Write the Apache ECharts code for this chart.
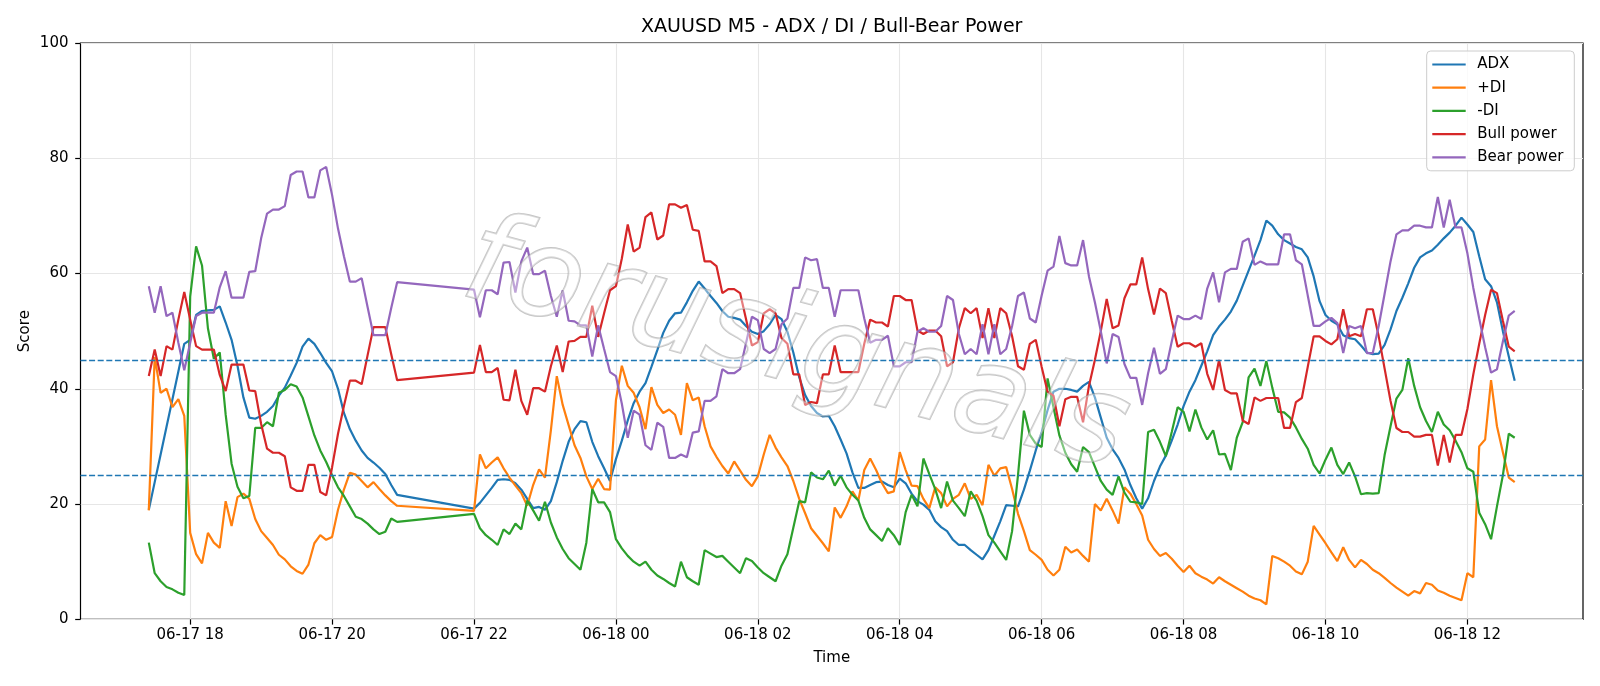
<!DOCTYPE html>
<html>
<head>
<meta charset="utf-8">
<title>XAUUSD M5 - ADX / DI / Bull-Bear Power</title>
<script src="https://cdn.jsdelivr.net/npm/echarts@6/dist/echarts.min.js"></script>
<style>
    html, body { margin: 0; padding: 0; background: #fff; }
    #chart { width: 1600px; height: 686px; }
</style>
</head>
<body>
<div id="chart"></div>
<script>
// M5 bars, two sessions (market closed 21:00 - 22:00)
var sessions = [
    { start: '2025-06-17 17:25', bars: 43 },
    { start: '2025-06-17 22:00', bars: 177 }
];
var tickLabels = ['06-17 18', '06-17 20', '06-17 22', '06-18 00', '06-18 02',
    '06-18 04', '06-18 06', '06-18 08', '06-18 10', '06-18 12'];
var yTicks = [0, 20, 40, 60, 80, 100];
var levels = [45, 25];
var seriesNames = ['ADX', '+DI', '-DI', 'Bull power', 'Bear power'];
var colors = ['#1f77b4', '#ff7f0e', '#2ca02c', '#d62728', '#9467bd'];

var adx = [
    19.0, 23.8, 28.6, 33.4, 38.2, 43.0, 47.8, 48.5, 52.8, 53.5, 53.6, 53.7, 54.3, 51.5, 48.5, 44.0, 38.5, 35.0, 34.8, 35.3,
    36.0, 37.0, 38.8, 40.2, 42.3, 44.5, 47.3, 48.7, 47.8, 46.2, 44.5, 43.0, 40.0, 35.8, 33.0, 31.0, 29.3, 28.0, 27.2, 26.3,
    25.2, 23.3, 21.6,
    19.2, 20.2, 21.5, 22.8, 24.2, 24.3, 24.2, 23.6, 22.5, 20.9, 19.3, 19.5, 19.0, 20.5, 23.8, 27.5, 30.8, 33.0, 34.4, 34.2,
    30.8, 28.3, 26.2, 24.0, 27.8, 31.0, 34.5, 37.5, 39.5, 41.0, 43.8, 46.7, 49.7, 51.8, 53.1, 53.2, 55.0, 57.0, 58.6, 57.4,
    56.1, 54.9, 53.5, 52.5, 52.3, 52.0, 50.9, 49.9, 49.5, 50.0, 51.2, 52.8, 52.1, 49.9, 46.3, 42.0, 38.9, 37.0, 35.8, 35.2,
    35.3, 33.5, 31.2, 28.8, 25.5, 22.8, 22.8, 23.3, 23.8, 23.9, 23.3, 22.9, 24.4, 23.6, 21.8, 20.5, 19.9, 19.0, 17.0, 16.0,
    15.3, 13.8, 12.9, 12.9, 12.0, 11.2, 10.4, 12.0, 14.5, 17.0, 19.8, 19.7, 19.6, 22.5, 25.8, 29.3, 32.5, 36.3, 39.5, 40.0,
    40.0, 39.8, 39.5, 40.5, 41.2, 38.5, 35.0, 31.5, 29.5, 28.0, 26.0, 23.3, 21.0, 19.2, 21.0, 24.0, 26.5, 28.4, 31.0, 33.8,
    37.0, 39.5, 41.5, 44.0, 46.5, 49.3, 50.8, 52.0, 53.4, 55.3, 57.9, 60.5, 63.1, 65.8, 69.2, 68.3, 66.8, 65.8, 65.2, 64.6,
    64.2, 62.8, 59.5, 55.2, 52.8, 51.8, 51.2, 49.3, 48.8, 48.6, 47.5, 46.3, 46.0, 46.1, 47.6, 50.3, 53.5, 55.8, 58.3, 61.0,
    62.8, 63.5, 64.0, 65.0, 66.1, 67.1, 68.3, 69.7, 68.5, 67.2, 63.0, 59.0, 57.8, 55.0, 50.0, 45.6, 41.4
];
var plusDi = [
    18.9, 45.5, 39.3, 40.0, 36.8, 38.2, 35.3, 15.0, 11.3, 9.7, 15.0, 13.3, 12.4, 20.5, 16.2, 21.2, 21.8, 20.9, 17.4, 15.3,
    14.1, 12.9, 11.2, 10.4, 9.2, 8.4, 7.9, 9.5, 13.2, 14.6, 13.8, 14.3, 19.0, 22.5, 25.4, 25.1, 24.0, 22.9, 23.8, 22.6,
    21.5, 20.5, 19.7,
    18.8, 28.6, 26.2, 27.2, 28.1, 26.2, 24.6, 23.2, 21.9, 19.7, 23.3, 26.0, 24.6, 32.8, 42.2, 37.2, 33.7, 30.2, 28.0, 24.8,
    22.6, 24.4, 22.6, 22.5, 38.0, 44.0, 40.5, 39.3, 36.8, 33.0, 40.3, 37.2, 35.8, 36.4, 35.5, 32.0, 41.0, 38.0, 38.5, 33.5,
    30.0, 28.2, 26.6, 25.3, 27.4, 25.8, 24.2, 23.1, 24.8, 28.6, 32.0, 29.8, 28.1, 26.6, 24.0, 20.9, 18.4, 15.8, 14.5, 13.2,
    11.8, 19.4, 17.6, 19.6, 22.2, 20.6, 25.9, 27.9, 25.9, 23.6, 21.9, 22.2, 29.0, 25.9, 23.2, 23.1, 20.9, 19.3, 22.9, 21.9,
    19.6, 20.9, 21.6, 23.6, 20.9, 21.6, 19.8, 26.8, 24.9, 26.2, 26.4, 22.6, 18.3, 15.3, 12.0, 11.2, 10.3, 8.6, 7.6, 8.6,
    12.6, 11.6, 12.1, 11.0, 10.0, 20.0, 18.9, 20.9, 18.9, 16.6, 22.9, 21.8, 20.0, 18.0, 13.8, 12.2, 11.0, 11.5, 10.5, 9.3,
    8.2, 9.3, 8.0, 7.4, 6.9, 6.2, 7.3, 6.6, 6.0, 5.4, 4.8, 4.1, 3.6, 3.3, 2.6, 11.0, 10.6, 10.0, 9.3, 8.3,
    7.8, 10.0, 16.2, 14.7, 13.2, 11.6, 10.1, 12.5, 10.3, 9.0, 10.3, 9.6, 8.6, 8.0, 7.2, 6.3, 5.5, 4.8, 4.1, 4.9,
    4.5, 6.3, 6.0, 5.0, 4.6, 4.1, 3.7, 3.3, 8.0, 7.3, 30.0, 31.2, 41.5, 33.5, 29.0, 24.6, 23.8
];
var minusDi = [
    13.3, 8.0, 6.6, 5.6, 5.2, 4.6, 4.2, 56.0, 64.7, 61.4, 50.5, 45.2, 46.3, 35.5, 27.0, 23.0, 21.0, 21.4, 33.2, 33.2,
    34.2, 33.5, 39.3, 39.8, 40.8, 40.4, 38.5, 35.2, 31.9, 29.3, 27.3, 25.0, 22.9, 21.4, 19.6, 17.8, 17.4, 16.6, 15.6, 14.8,
    15.2, 17.5, 16.9,
    18.3, 15.8, 14.6, 13.8, 12.9, 15.6, 14.8, 16.6, 15.6, 20.6, 18.9, 17.1, 20.4, 16.8, 14.2, 12.2, 10.6, 9.6, 8.6, 13.3,
    22.6, 20.3, 20.3, 18.6, 13.9, 12.3, 11.0, 10.0, 9.3, 10.0, 8.6, 7.6, 7.0, 6.3, 5.7, 10.0, 7.3, 6.6, 6.0, 12.0,
    11.4, 10.8, 11.0, 10.0, 9.0, 8.0, 10.6, 10.1, 9.0, 8.0, 7.3, 6.6, 9.3, 11.3, 15.9, 20.5, 20.3, 25.5, 24.6, 24.3,
    25.8, 23.2, 24.9, 22.9, 21.6, 20.6, 17.6, 15.6, 14.6, 13.6, 15.8, 14.6, 12.9, 18.6, 21.6, 19.6, 27.9, 25.2, 22.6, 19.3,
    23.9, 20.6, 19.3, 17.9, 22.2, 20.6, 17.9, 14.6, 13.3, 11.8, 10.3, 15.3, 25.0, 36.2, 32.0, 30.5, 29.9, 41.8, 36.8, 31.9,
    28.9, 26.9, 25.6, 29.9, 29.0, 26.5, 24.0, 22.5, 21.6, 24.8, 22.0, 20.4, 20.3, 20.0, 32.5, 32.9, 30.8, 28.3, 32.5, 36.8,
    36.0, 32.6, 36.4, 33.3, 31.2, 32.8, 28.6, 28.7, 25.9, 31.5, 34.2, 42.0, 43.5, 40.5, 44.8, 40.2, 36.0, 35.9, 35.0, 33.3,
    31.3, 29.6, 26.8, 25.3, 27.7, 29.8, 26.8, 25.2, 27.2, 24.8, 21.7, 21.9, 21.8, 21.9, 28.5, 33.5, 38.3, 39.8, 45.3, 40.5,
    36.8, 34.4, 32.5, 36.0, 33.8, 32.8, 31.0, 29.0, 26.2, 25.6, 18.5, 16.5, 13.9, 19.6, 25.0, 32.2, 31.5
];
var bullPower = [
    42.2, 46.8, 42.2, 47.4, 46.8, 52.0, 56.8, 52.0, 47.4, 46.8, 46.8, 46.8, 42.4, 39.6, 44.2, 44.2, 44.2, 39.7, 39.6, 33.9,
    29.6, 28.9, 28.9, 28.3, 22.9, 22.3, 22.3, 26.8, 26.8, 22.1, 21.5, 26.4, 32.2, 37.0, 41.4, 41.4, 40.8, 45.8, 50.7, 50.7,
    50.7, 46.0, 41.5,
    42.8, 47.6, 42.9, 42.9, 43.6, 38.1, 38.0, 43.3, 37.9, 35.5, 40.1, 40.1, 39.5, 43.9, 47.5, 42.9, 48.2, 48.3, 49.0, 49.0,
    54.4, 49.0, 53.1, 57.1, 57.8, 62.6, 68.5, 63.8, 64.5, 69.8, 70.6, 65.9, 66.6, 72.0, 72.0, 71.4, 71.9, 67.6, 67.4, 62.1,
    62.1, 61.3, 56.6, 57.3, 57.3, 56.6, 52.1, 47.5, 48.1, 53.1, 53.8, 53.1, 48.8, 47.8, 42.5, 42.5, 37.2, 37.7, 37.5, 42.5,
    42.5, 47.5, 42.9, 42.9, 42.9, 42.9, 47.8, 52.0, 51.5, 51.5, 50.8, 56.1, 56.1, 55.4, 55.4, 50.1, 49.5, 50.1, 50.1, 49.1,
    43.9, 44.6, 50.5, 54.0, 53.1, 54.0, 48.8, 54.0, 48.8, 54.0, 53.1, 49.1, 43.9, 43.3, 47.8, 48.5, 43.8, 39.5, 38.8, 33.5,
    38.2, 38.6, 38.6, 34.2, 40.5, 45.0, 50.0, 55.6, 50.5, 51.0, 55.7, 58.1, 58.1, 62.8, 57.3, 52.9, 57.4, 56.6, 51.8, 47.3,
    47.9, 47.9, 47.3, 47.9, 42.6, 39.8, 45.0, 39.8, 39.2, 39.2, 34.5, 33.9, 38.5, 37.9, 38.4, 38.4, 38.4, 33.2, 33.2, 37.7,
    38.4, 43.8, 49.1, 49.1, 48.3, 47.7, 48.6, 53.8, 49.1, 49.5, 49.1, 53.8, 53.8, 49.1, 43.5, 37.9, 33.2, 32.5, 32.5, 31.7,
    31.7, 32.0, 32.0, 26.7, 32.0, 27.2, 32.0, 32.0, 36.5, 42.5, 47.8, 52.8, 57.2, 56.6, 51.8, 47.3, 46.5
];
var bearPower = [
    57.8, 53.2, 57.8, 52.6, 53.2, 48.0, 43.2, 48.0, 52.6, 53.2, 53.2, 53.2, 57.6, 60.4, 55.8, 55.8, 55.8, 60.3, 60.4, 66.1,
    70.4, 71.1, 71.1, 71.7, 77.1, 77.7, 77.7, 73.2, 73.2, 77.9, 78.5, 73.6, 67.8, 63.0, 58.6, 58.6, 59.2, 54.2, 49.3, 49.3,
    49.3, 54.0, 58.5,
    57.2, 52.4, 57.1, 57.1, 56.4, 61.9, 62.0, 56.7, 62.1, 64.5, 59.9, 59.9, 60.5, 56.1, 52.5, 57.1, 51.8, 51.7, 51.0, 51.0,
    45.6, 51.0, 46.9, 42.9, 42.2, 37.4, 31.5, 36.2, 35.5, 30.2, 29.4, 34.1, 33.4, 28.0, 28.0, 28.6, 28.1, 32.4, 32.6, 37.9,
    37.9, 38.7, 43.4, 42.7, 42.7, 43.4, 47.9, 52.5, 51.9, 46.9, 46.2, 46.9, 51.2, 52.2, 57.5, 57.5, 62.8, 62.3, 62.5, 57.5,
    57.5, 52.5, 57.1, 57.1, 57.1, 57.1, 52.2, 48.0, 48.5, 48.5, 49.2, 43.9, 43.9, 44.6, 44.6, 49.9, 50.5, 49.9, 49.9, 50.9,
    56.1, 55.4, 49.5, 46.0, 46.9, 46.0, 51.2, 46.0, 51.2, 46.0, 46.9, 50.9, 56.1, 56.7, 52.2, 51.5, 56.2, 60.5, 61.2, 66.5,
    61.8, 61.4, 61.4, 65.8, 59.5, 55.0, 50.0, 44.4, 49.5, 49.0, 44.3, 41.9, 41.9, 37.2, 42.7, 47.1, 42.6, 43.4, 48.2, 52.7,
    52.1, 52.1, 52.7, 52.1, 57.4, 60.2, 55.0, 60.2, 60.8, 60.8, 65.5, 66.1, 61.5, 62.1, 61.6, 61.6, 61.6, 66.8, 66.8, 62.3,
    61.6, 56.2, 50.9, 50.9, 51.7, 52.3, 51.4, 46.2, 50.9, 50.5, 50.9, 46.2, 46.2, 50.9, 56.5, 62.1, 66.8, 67.5, 67.5, 68.3,
    68.3, 68.0, 68.0, 73.3, 68.0, 72.8, 68.0, 68.0, 63.5, 57.5, 52.2, 47.2, 42.8, 43.4, 48.2, 52.7, 53.5
];

var FONT = 'DejaVu Sans';
var STEP = 5 * 60 * 1000;

function parseTime(s) {
    var p = s.split(/[- :]/);
    return Date.UTC(+p[0], +p[1] - 1, +p[2], +p[3], +p[4]);
}

function pad(n) {
    return (n < 10 ? '0' : '') + n;
}

function formatTick(value) {
    var d = new Date(value);
    return pad(d.getUTCMonth() + 1) + '-' + pad(d.getUTCDate()) + ' ' + pad(d.getUTCHours());
}

function buildTimes() {
    var times = [];
    sessions.forEach(function (s) {
        var t0 = parseTime(s.start);
        for (var i = 0; i < s.bars; i++) {
            times.push(t0 + i * STEP);
        }
    });
    return times;
}

function tickValues() {
    return tickLabels.map(function (label) {
        var p = label.split(/[- ]/);
        return Date.UTC(2025, +p[0] - 1, +p[1], +p[2]);
    });
}

function drawChart() {
    var times = buildTimes();
    var ticks = tickValues();
    // matplotlib style 5% x margin
    var span = times[times.length - 1] - times[0];
    var xMin = times[0] - span * 0.05;
    var xMax = times[times.length - 1] + span * 0.05;
    var values = [adx, plusDi, minusDi, bullPower, bearPower];

    var series = seriesNames.map(function (name, k) {
        return {
            name: name,
            type: 'line',
            symbol: 'none',
            z: 2,
            lineStyle: { width: 2.2, color: colors[k] },
            itemStyle: { color: colors[k] },
            data: times.map(function (t, i) { return [t, values[k][i]]; })
        };
    });
    series[0].markLine = {
        silent: true,
        symbol: ['none', 'none'],
        label: { show: false },
        lineStyle: { color: '#1f77b4', width: 1.4, type: [6, 2.6] },
        data: levels.map(function (v) { return { yAxis: v }; })
    };

    var chart = echarts.init(document.getElementById('chart'));
    var option = {
        animation: false,
        backgroundColor: '#fff',
        textStyle: { fontFamily: FONT },
        grid: {
            left: 80.5, right: 17, top: 43, bottom: 66.7,
            show: true, borderColor: '#000', borderWidth: 1.2
        },
        legend: {
            data: seriesNames,
            orient: 'vertical',
            right: 25.7,
            top: 51,
            // plain line handles, like matplotlib
            icon: 'path://M0,0H334V22H0Z',
            symbolKeepAspect: false,
            itemWidth: 33.4,
            itemHeight: 2.2,
            itemGap: 8.2,
            padding: [6, 11, 6, 5.6],
            backgroundColor: 'rgba(255,255,255,0.8)',
            borderColor: '#cccccc',
            borderWidth: 1,
            borderRadius: 4,
            selectedMode: false,
            textStyle: { fontSize: 15, color: '#000', fontFamily: FONT, lineHeight: 14, padding: [0, 0, 0, 6.6] }
        },
        xAxis: {
            type: 'value',
            min: xMin,
            max: xMax,
            name: 'Time',
            nameLocation: 'middle',
            nameGap: 31,
            nameTextStyle: { fontSize: 15, color: '#000', fontFamily: FONT },
            axisLine: { show: false },
            axisTick: { show: true, customValues: ticks, length: 5.3, lineStyle: { color: '#000', width: 1.2 } },
            axisLabel: {
                customValues: ticks,
                fontSize: 15, color: '#000', margin: 8, fontFamily: FONT,
                formatter: function (value) { return formatTick(value); }
            },
            splitLine: { show: true, lineStyle: { color: '#e6e6e6', width: 1.1 } }
        },
        yAxis: {
            type: 'value',
            min: yTicks[0],
            max: yTicks[yTicks.length - 1],
            interval: 20,
            name: 'Score',
            nameLocation: 'middle',
            nameGap: 48,
            nameMoveOverlap: false,
            nameTextStyle: { fontSize: 15, color: '#000', fontFamily: FONT },
            axisLine: { show: false },
            axisTick: { show: true, length: 5.3, lineStyle: { color: '#000', width: 1.2 } },
            axisLabel: { fontSize: 15, color: '#000', margin: 12, fontFamily: FONT },
            splitLine: { show: true, lineStyle: { color: '#e6e6e6', width: 1.1 } }
        },
        graphic: [
            {
                type: 'text',
                x: 831.75,
                y: 27,
                style: {
                    text: 'XAUUSD M5 - ADX / DI / Bull-Bear Power',
                    fill: '#000',
                    font: '19px "DejaVu Sans"',
                    textAlign: 'center',
                    textVerticalAlign: 'middle'
                }
            },
            {
                // watermark
                type: 'text',
                x: 795,
                y: 350,
                rotation: -0.26,
                z: 100,
                silent: true,
                style: {
                    text: 'forusignals',
                    font: 'italic 124px "DejaVu Sans"',
                    fill: 'rgba(255,255,255,0.4)',
                    stroke: 'rgba(150,150,150,0.55)',
                    lineWidth: 1.8,
                    textAlign: 'center',
                    textVerticalAlign: 'middle'
                }
            }
        ],
        series: series
    };
    chart.setOption(option);
}

drawChart();
</script>
</body>
</html>
